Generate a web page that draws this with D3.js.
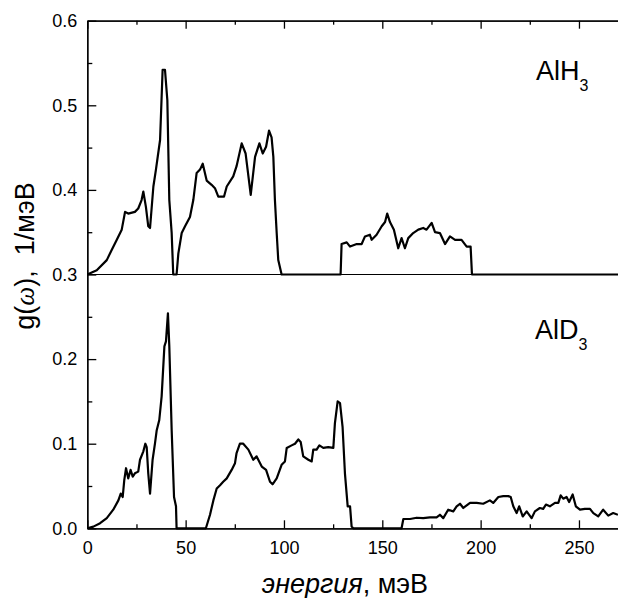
<!DOCTYPE html>
<html>
<head>
<meta charset="utf-8">
<script src="https://cdn.jsdelivr.net/npm/d3@7"></script>
<style>
  body { margin: 0; background: #fff; }
  svg { font-family: "Liberation Sans", Arial, sans-serif; }
</style>
</head>
<body>
<div id="chart"></div>
<script>
// AlH3 spectrum (drawn shifted up by 0.3)
const energyH = [0, 4.8, 9.9, 12.4, 15, 17.5, 19.2, 20.8, 24.2, 25.9, 27.6, 28.5, 29.8, 31, 31.9, 33.6, 34.9, 37, 38.3, 39.5,
  40.7, 41.7, 42.9, 43.7, 45.4, 46.3, 48, 49.7, 52.2, 53.9, 55.6, 57.3, 58.7, 60.7, 63.2, 64.9, 66.6, 69.5, 70.9, 74.2,
  75.9, 78.5, 80.5, 83.1, 85.3, 87.5, 89.2, 90.9, 92.4, 93.7, 94.6, 95.4, 96.3, 97.1, 98.8, 128.8, 129.3, 131.9, 133.6, 137,
  139.5, 141.2, 143.7, 144.6, 147.1, 149.7, 151.4, 152.5, 153.9, 155.9, 158.1, 159.8, 161.5, 163.2, 165.7, 168.3, 170.8, 172.5, 175.1, 176.8,
  179.3, 181.9, 184.4, 187, 190.3, 192.9, 194.9, 195.6, 270];
const gH = [0, 0.005, 0.017, 0.029, 0.041, 0.053, 0.074, 0.072, 0.074, 0.078, 0.088, 0.098, 0.080, 0.057, 0.055, 0.104, 0.124, 0.159, 0.242, 0.242,
  0.206, 0.088, 0.049, 0, 0, 0.025, 0.049, 0.057, 0.068, 0.088, 0.120, 0.124, 0.131, 0.111, 0.106, 0.102, 0.092, 0.092, 0.104, 0.116,
  0.128, 0.155, 0.143, 0.094, 0.139, 0.155, 0.143, 0.151, 0.170, 0.162, 0.139, 0.088, 0.049, 0.017, 0, 0, 0.036, 0.038, 0.033, 0.036,
  0.036, 0.045, 0.047, 0.041, 0.047, 0.057, 0.062, 0.072, 0.062, 0.053, 0.031, 0.043, 0.031, 0.043, 0.049, 0.053, 0.055, 0.053, 0.061, 0.050,
  0.049, 0.036, 0.045, 0.041, 0.041, 0.033, 0.033, 0, 0];
const offsetH = 0.3;

// AlD3 spectrum
const energyD = [0, 3.1, 6.5, 9.9, 13.2, 15.8, 17, 18, 18.8, 19.7, 20.8, 22, 23.1, 24.2, 25.9, 26.8, 28.5, 29.5, 30.2, 31,
  31.9, 33.2, 34.4, 35.3, 36.6, 37.8, 39.2, 40, 41, 41.7, 42.9, 44.1, 45.1, 45.4, 60.3, 62.4, 64.1, 65.8, 67.5, 69.1,
  70.9, 73.4, 75.1, 75.9, 77.6, 79.3, 81.9, 84.4, 86.1, 88.7, 90.9, 92.9, 94.2, 96.3, 98.8, 100.5, 101.4, 103.9, 105.6, 107.3,
  108.5, 109.8, 112.4, 114.1, 114.9, 116.6, 118, 120, 122.5, 125.1, 125.9, 127.3, 128.5, 129.8, 131, 132.4, 133.6, 134.4, 135.2, 159.8,
  160.7, 164.1, 167.5, 170.8, 174.2, 177.6, 179.3, 181, 183.5, 186.1, 187.8, 189.5, 191.2, 194.6, 198, 201.3, 204.7, 206.4, 209, 211.5,
  214.1, 215.3, 216.6, 218.3, 219.6, 221.4, 223.4, 225.9, 227.6, 230.1, 231.8, 233.2, 235.2, 237.8, 239.5, 240.7, 242, 243.7, 245, 246.8,
  248.4, 250.5, 253, 255.6, 257.3, 259.8, 262.3, 264.9, 267.4, 269.8];
const gD = [0, 0.002, 0.006, 0.012, 0.022, 0.033, 0.041, 0.037, 0.057, 0.071, 0.059, 0.069, 0.061, 0.065, 0.067, 0.081, 0.091, 0.100, 0.096, 0.065,
  0.041, 0.081, 0.100, 0.116, 0.128, 0.156, 0.215, 0.221, 0.254, 0.215, 0.116, 0.037, 0.026, 0, 0, 0.016, 0.033, 0.047, 0.051, 0.055,
  0.059, 0.069, 0.077, 0.089, 0.100, 0.100, 0.093, 0.081, 0.085, 0.073, 0.069, 0.055, 0.052, 0.059, 0.075, 0.079, 0.095, 0.098, 0.100, 0.105,
  0.102, 0.085, 0.081, 0.079, 0.093, 0.093, 0.098, 0.095, 0.096, 0.095, 0.124, 0.150, 0.148, 0.120, 0.065, 0.026, 0.026, 0.002, 0, 0,
  0.011, 0.011, 0.0125, 0.012, 0.013, 0.013, 0.016, 0.012, 0.022, 0.020, 0.026, 0.029, 0.024, 0.030, 0.030, 0.029, 0.033, 0.030, 0.037, 0.038,
  0.038, 0.037, 0.026, 0.018, 0.026, 0.014, 0.020, 0.012, 0.020, 0.024, 0.023, 0.028, 0.026, 0.030, 0.030, 0.039, 0.035, 0.037, 0.031, 0.040,
  0.026, 0.022, 0.023, 0.023, 0.018, 0.014, 0.022, 0.015, 0.018, 0.016];

const xTicks = [0, 50, 100, 150, 200, 250];
const yTicks = [0.0, 0.1, 0.2, 0.3, 0.4, 0.5, 0.6];

const width = 618, height = 598;
const margin = { top: 20.7, left: 87.3 };
const plotW = 531, plotH = 507.6;

const svg = d3.select("#chart")
  .append("svg")
  .attr("width", width)
  .attr("height", height);

const g = svg.append("g")
  .attr("transform", `translate(${margin.left},${margin.top})`);

const xScale = d3.scaleLinear().domain([0, 270]).range([0, plotW]);
const yScale = d3.scaleLinear().domain([0, 0.6]).range([plotH, 0]);

// minor ticks
const xMinor = d3.range(25, 270, 50);
const yMinor = d3.range(0.05, 0.6, 0.1);

const styleAxis = sel => {
  sel.selectAll("path").attr("stroke", "#000").attr("stroke-width", 1.3);
  sel.selectAll("line").attr("stroke", "#000").attr("stroke-width", 1.3);
  sel.selectAll("text").attr("font-size", 18).attr("fill", "#000")
    .attr("font-family", "'Liberation Sans', Arial, sans-serif");
};

// bottom axis
g.append("g")
  .attr("transform", `translate(0,${plotH})`)
  .call(d3.axisBottom(xScale).tickValues(xMinor).tickSize(-4).tickSizeOuter(0).tickFormat(""))
  .call(styleAxis);
g.append("g")
  .attr("transform", `translate(0,${plotH})`)
  .call(d3.axisBottom(xScale).tickValues(xTicks).tickSize(-8).tickSizeOuter(0).tickPadding(13).tickFormat(d3.format("d")))
  .call(styleAxis);

// top axis
g.append("g")
  .call(d3.axisTop(xScale).tickValues(xMinor).tickSize(-4).tickSizeOuter(0).tickFormat(""))
  .call(styleAxis);
g.append("g")
  .call(d3.axisTop(xScale).tickValues(xTicks).tickSize(-8).tickSizeOuter(0).tickFormat(""))
  .call(styleAxis);

// left axis
g.append("g")
  .call(d3.axisLeft(yScale).tickValues(yMinor).tickSize(-5).tickSizeOuter(0).tickFormat(""))
  .call(styleAxis);
g.append("g")
  .call(d3.axisLeft(yScale).tickValues(yTicks).tickSize(-9).tickSizeOuter(0).tickPadding(10).tickFormat(d3.format(".1f")))
  .call(styleAxis);

// baseline of the shifted AlH3 curve
g.append("line")
  .attr("x1", xScale(0))
  .attr("x2", xScale(270))
  .attr("y1", yScale(offsetH))
  .attr("y2", yScale(offsetH))
  .attr("stroke", "#000")
  .attr("stroke-width", 1.2);

const line = d3.line()
  .x(d => xScale(d[0]))
  .y(d => yScale(d[1]));

g.append("path")
  .datum(energyH.map((e, i) => [e, gH[i] + offsetH]))
  .attr("d", line)
  .attr("fill", "none")
  .attr("stroke", "#000")
  .attr("stroke-width", 2.2)
  .attr("stroke-linejoin", "round");

g.append("path")
  .datum(energyD.map((e, i) => [e, gD[i]]))
  .attr("d", line)
  .attr("fill", "none")
  .attr("stroke", "#000")
  .attr("stroke-width", 2.2)
  .attr("stroke-linejoin", "round");

// sample labels
const addLabel = (x, y, main) => {
  const t = svg.append("text")
    .attr("x", x)
    .attr("y", y)
    .attr("font-size", 27)
    .attr("fill", "#000");
  t.append("tspan").text(main);
  t.append("tspan").attr("font-size", 16).attr("dy", 11).text("3");
};
addLabel(536, 80, "AlH");
addLabel(535, 339, "AlD");

// axis titles
const xTitle = svg.append("text")
  .attr("x", 345)
  .attr("y", 593)
  .attr("text-anchor", "middle")
  .attr("font-size", 27)
  .attr("fill", "#000");
xTitle.append("tspan").attr("font-style", "italic").text("энергия");
xTitle.append("tspan").text(", мэВ");

const yTitle = svg.append("text")
  .attr("transform", "translate(34,256) rotate(-90)")
  .attr("text-anchor", "middle")
  .attr("font-size", 27)
  .attr("fill", "#000")
  .attr("xml:space", "preserve");
yTitle.append("tspan").text("g(");
yTitle.append("tspan")
  .attr("font-family", "'Liberation Serif', 'Times New Roman', serif")
  .attr("font-style", "italic")
  .text("ω");
yTitle.append("tspan").text("),  1/мэВ");
</script>
</body>
</html>
